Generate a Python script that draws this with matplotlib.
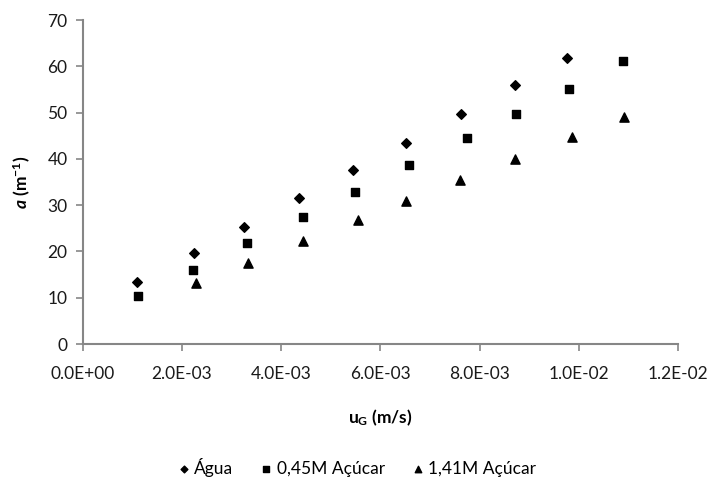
import matplotlib
matplotlib.use("Agg")
import matplotlib.pyplot as plt

plt.rcParams['font.family'] = ['Lato', 'DejaVu Sans']
plt.rcParams['mathtext.fontset'] = 'custom'
plt.rcParams['mathtext.it'] = 'Lato:italic:bold'
plt.rcParams['mathtext.rm'] = 'Lato:bold'
plt.rcParams['mathtext.bf'] = 'Lato:bold'

# Superficial gas velocity (m/s) and interfacial area (1/m) per solution
agua_x = [1.09e-3, 2.25e-3, 3.25e-3, 4.36e-3, 5.45e-3, 6.51e-3, 7.63e-3, 8.72e-3, 9.76e-3]
agua_y = [13.3, 19.7, 25.3, 31.5, 37.5, 43.5, 49.7, 55.9, 61.7]

ac045_x = [1.12e-3, 2.22e-3, 3.32e-3, 4.43e-3, 5.48e-3, 6.57e-3, 7.75e-3, 8.73e-3, 9.79e-3, 10.89e-3]
ac045_y = [10.4, 16.0, 21.8, 27.5, 32.9, 38.6, 44.6, 49.7, 55.1, 61.1]

ac141_x = [2.28e-3, 3.34e-3, 4.44e-3, 5.54e-3, 6.52e-3, 7.61e-3, 8.70e-3, 9.86e-3, 10.91e-3]
ac141_y = [13.2, 17.6, 22.3, 26.8, 30.8, 35.4, 39.9, 44.8, 49.1]

labels = ['Água', '0,45M Açúcar', '1,41M Açúcar']
x_ticks = [0.0, 2e-3, 4e-3, 6e-3, 8e-3, 1e-2, 1.2e-2]
x_tick_labels = ['0.0E+00', '2.0E-03', '4.0E-03', '6.0E-03', '8.0E-03', '1.0E-02', '1.2E-02']
y_ticks = [0, 10, 20, 30, 40, 50, 60, 70]

fig = plt.figure(figsize=(7.11, 4.80), dpi=100)
ax = fig.add_axes([0.1163, 0.2833, 0.8377, 0.675])

ax.scatter(agua_x, agua_y, marker='D', s=24, color='black', label=labels[0], zorder=3)
ax.scatter(ac045_x, ac045_y, marker='s', s=40, color='black', label=labels[1], zorder=3)
ax.scatter(ac141_x, ac141_y, marker='^', s=44, color='black', label=labels[2], zorder=3)

ax.set_xlim(0, 0.012)
ax.set_ylim(0, 70)
ax.set_xticks(x_ticks)
ax.set_xticklabels(x_tick_labels)
ax.set_yticks(y_ticks)

grey = '#868686'
for side in ['top', 'right']:
    ax.spines[side].set_visible(False)
for side in ['left', 'bottom']:
    ax.spines[side].set_color(grey)
    ax.spines[side].set_linewidth(1.5)
ax.tick_params(axis='both', direction='out', length=5, width=1.2, color=grey,
               labelsize=12.5, labelcolor='#1a1a1a', pad=6)
ax.tick_params(axis='x', pad=11)

ax.set_xlabel(r'u$_\mathregular{G}$ (m/s)', fontsize=12.5, fontweight='bold', labelpad=18)
ax.set_ylabel(r'$a$ (m$^{\mathregular{-1}}$)', fontsize=12.5, fontweight='bold', labelpad=10)

leg = fig.legend(loc='center', bbox_to_anchor=(0.5, 0.027), ncol=3, frameon=False,
                 fontsize=12.5, handletextpad=0.1, columnspacing=1.4, markerscale=0.7,
                 handlelength=1.0)

fig.savefig('out.png', dpi=100)
